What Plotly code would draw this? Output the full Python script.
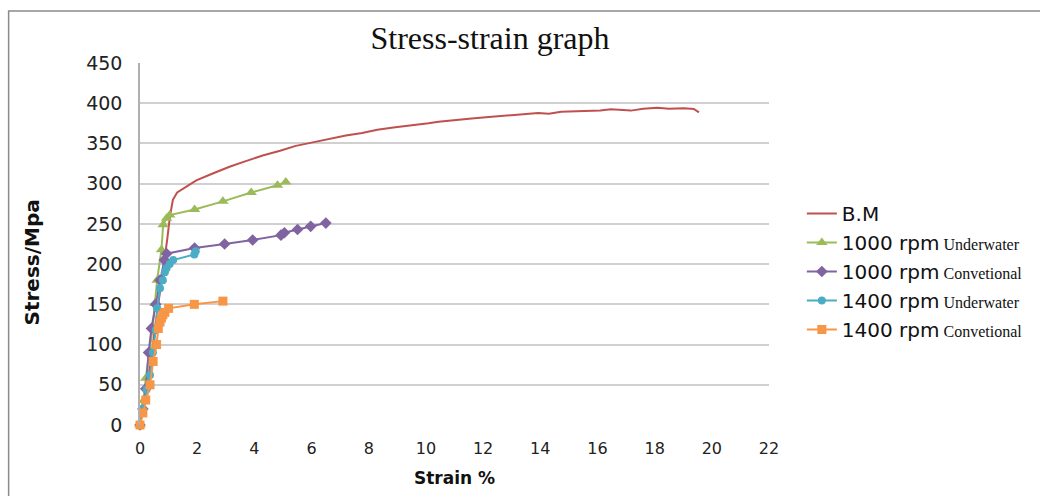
import plotly.graph_objects as go

# ---- data ----
bm_strain = [0, 0.3, 0.6, 0.85, 0.95, 1.05, 1.15, 1.3, 1.6, 1.97, 2.5, 3.13, 3.7, 4.29, 4.9, 5.45,
             6.0, 6.61, 7.2, 7.77, 8.3, 8.93, 9.5, 10.09, 10.44, 11.14, 11.6, 12.2, 12.76, 13.3,
             13.92, 14.3, 14.73, 15.2, 15.66, 16.1, 16.47, 16.8, 17.17, 17.6, 18.1, 18.5, 19.03,
             19.37, 19.55]
bm_stress = [0, 60, 140, 200, 230, 260, 280, 289, 296, 304, 312, 321, 328, 335, 341, 347,
             351, 356, 360, 363, 367, 370, 372, 375, 377, 379, 381, 383, 385, 386,
             388, 387, 389.5, 390, 390.8, 391, 392.4, 392, 390.8, 393, 394.5, 393, 393.6,
             392.8, 388.7]

uw1000_strain = [0, 0.12, 0.2, 0.35, 0.45, 0.52, 0.6, 0.75, 0.81, 0.93, 1.04, 1.91, 2.9, 3.89, 4.81, 5.1]
uw1000_stress = [0, 30, 58, 93, 122, 151, 180, 218, 249, 257, 261, 268, 278, 289, 298, 302]

cv1000_strain = [0, 0.1, 0.2, 0.3, 0.4, 0.55, 0.7, 0.85, 0.93, 1.91, 2.96, 3.94, 4.93, 5.05, 5.51, 5.97, 6.5]
cv1000_stress = [0, 20, 45, 90, 120, 150, 180, 205, 213, 220, 225, 230, 236, 239, 243, 247, 251]

uw1400_strain = [0, 0.1, 0.23, 0.35, 0.45, 0.55, 0.6, 0.7, 0.8, 0.87, 0.93, 1.04, 1.16, 1.9, 1.95]
uw1400_stress = [0, 20, 44, 62, 90, 118, 145, 170, 180, 190, 195, 200, 205, 212, 216]

cv1400_strain = [0, 0.1, 0.2, 0.35, 0.46, 0.58, 0.64, 0.7, 0.75, 0.8, 0.87, 1.0, 1.9, 2.9]
cv1400_stress = [0, 15, 31, 50, 79, 100, 120, 128, 133, 137, 140, 145, 150, 154]

x_ticks = list(range(0, 23, 2))
y_ticks = list(range(0, 451, 50))

small = "<span style='font-family:Liberation Serif;font-size:16px'> {}</span>"

series = [
    ("B.M", bm_strain, bm_stress, "#C0504D", None, 0),
    ("1000 rpm" + small.format("Underwater"), uw1000_strain, uw1000_stress, "#9BBB59", "triangle-up", 10),
    ("1000 rpm" + small.format("Convetional"), cv1000_strain, cv1000_stress, "#8064A2", "diamond", 9),
    ("1400 rpm" + small.format("Underwater"), uw1400_strain, uw1400_stress, "#4BACC6", "circle", 8),
    ("1400 rpm" + small.format("Convetional"), cv1400_strain, cv1400_stress, "#F79646", "square", 9),
]

fig = go.Figure()
for i, (name, xs, ys, col, sym, msize) in enumerate(series):
    if sym is None:
        fig.add_trace(go.Scatter(x=xs, y=ys, name=name, mode="lines",
                                 line=dict(color=col, width=2), legendgroup=str(i),
                                 cliponaxis=False))
    else:
        fig.add_trace(go.Scatter(x=xs, y=ys, name=name, mode="lines+markers",
                                 line=dict(color=col, width=2),
                                 marker=dict(symbol=sym, size=msize, color=col),
                                 legendgroup=str(i), cliponaxis=False))

L, R, T, B = 140, 772, 63, 425
W, H = 1040, 496

def px(xp):
    return (xp - L) / (R - L)

def py(yp):
    return (B - yp) / (B - T)

fig.update_layout(
    width=W, height=H,
    margin=dict(l=L, r=W - R, t=T, b=H - B),
    paper_bgcolor="white", plot_bgcolor="white",
    title=dict(text="Stress-strain graph", font=dict(family="Liberation Serif", size=32, color="#111"),
               x=490 / W, xref="container", xanchor="center",
               y=1 - 38 / H, yref="container", yanchor="middle"),
    xaxis=dict(range=[0, 22], tickvals=x_ticks, showgrid=False, zeroline=False,
               showline=False, ticks="", ticklabelstandoff=12,
               tickfont=dict(family="DejaVu Sans", size=16, color="#222")),
    yaxis=dict(range=[0, 450], tickvals=y_ticks, showgrid=True, gridcolor="#d0d0d0", gridwidth=1.5,
               zeroline=False, showline=True, linecolor="#b0b0b0", linewidth=1.5, ticks="",
               ticklabelstandoff=12,
               tickfont=dict(family="DejaVu Sans", size=19, color="#222")),
    legend=dict(x=px(805), y=py(194), xanchor="left", yanchor="top",
                font=dict(family="DejaVu Sans", size=20, color="#111"),
                tracegroupgap=0, itemwidth=30, bgcolor="rgba(0,0,0,0)"),
    showlegend=True,
    annotations=[
        dict(text="<b>Strain %</b>", x=px(456), y=py(478), xref="paper", yref="paper",
             showarrow=False, font=dict(family="DejaVu Sans", size=17, color="#111"),
             xanchor="center", yanchor="middle"),
        dict(text="<b>Stress/Mpa</b>", x=px(31), y=py(263), xref="paper", yref="paper",
             showarrow=False, textangle=-90, font=dict(family="DejaVu Sans", size=20, color="#111"),
             xanchor="center", yanchor="middle"),
    ],
    shapes=[
        dict(type="rect", xref="paper", yref="paper", x0=px(8), x1=px(1060), y0=py(520), y1=py(11),
             line=dict(color="#8a8a8a", width=1.5), fillcolor="rgba(0,0,0,0)", layer="below"),
    ],
)

fig.write_html("out.html", config={"displayModeBar": False},
               post_script="document.body.style.margin='0';")
